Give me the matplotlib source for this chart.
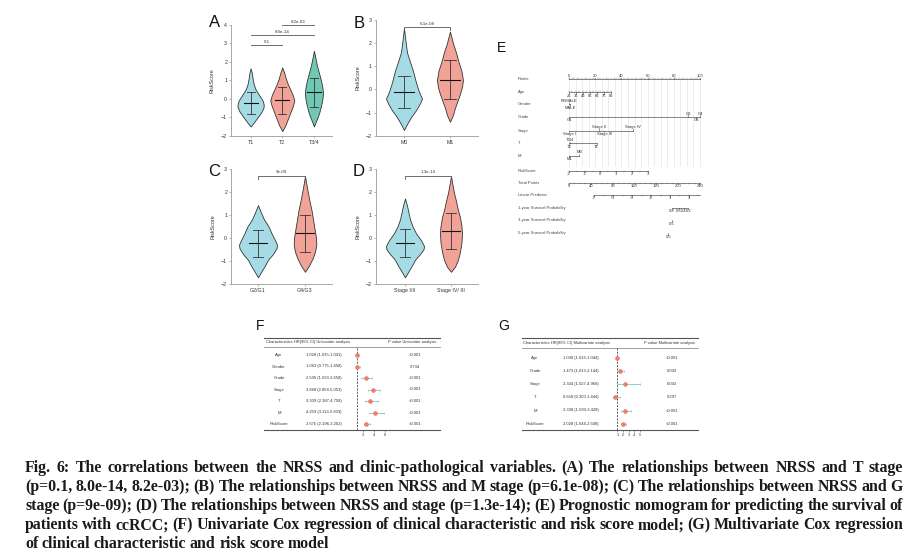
import numpy as np
import matplotlib
matplotlib.use("Agg")
import matplotlib.pyplot as plt

plt.rcParams['font.family'] = ['Liberation Sans', 'DejaVu Sans']

W, H = 913, 556

# ---------------- data: violin panels A-D ----------------
# each violin outline = RiskScore levels and the (unscaled) half-width there
A_groups = ['T1', 'T2', 'T3/4']
A_y = [[-1.5, -1.3, -1.0, -0.7, -0.45, -0.3, -0.1, 0.2, 0.5, 0.8, 1.1, 1.4, 1.65],
       [-1.75, -1.45, -1.1, -0.75, -0.4, -0.1, 0.2, 0.5, 0.8, 1.1, 1.4, 1.7],
       [-1.5, -1.15, -0.8, -0.4, 0.0, 0.3, 0.6, 1.0, 1.4, 1.8, 2.2, 2.6]]
A_dens = [[0, 3, 7, 11, 13, 13, 12, 8.5, 5, 3, 2, 1.2, 0],
          [0, 3, 5.5, 8, 10.5, 12, 10.5, 8, 5.5, 3.5, 2, 0],
          [0, 2.5, 5, 7, 8.5, 9, 8.5, 7, 5, 3, 1.5, 0]]
A_mid = [-0.25, -0.08, 0.35]
A_lo = [-0.85, -0.8, -0.45]
A_hi = [0.35, 0.65, 1.15]
A_pairs = [(1, 2), (1, 3), (2, 3)]
A_pvals = ['0.1', '8.0e-14', '8.2e-03']

B_groups = ['M0', 'M1']
B_y = [[-1.75, -1.5, -1.2, -0.9, -0.6, -0.4, -0.1, 0.3, 0.8, 1.2, 1.6, 2.1, 2.65],
       [-1.4, -1.1, -0.8, -0.5, -0.2, 0.1, 0.4, 0.8, 1.2, 1.6, 2.0, 2.5]]
B_dens = [[0, 3, 7, 12, 16, 18, 15, 12, 9, 6, 3, 1.5, 0],
          [0, 3, 5, 7.5, 10, 12, 13, 11.5, 8.5, 6, 3, 0]]
B_mid = [-0.1, 0.42]
B_lo = [-0.8, -0.4]
B_hi = [0.6, 1.25]
B_pval = '6.1e-08'

C_groups = ['G2/G1', 'G4/G3']
C_y = [[-1.71, -1.45, -1.2, -0.95, -0.7, -0.45, -0.3, -0.1, 0.2, 0.5, 0.8, 1.1, 1.42],
       [-1.47, -1.2, -0.9, -0.6, -0.3, 0.0, 0.4, 0.8, 1.2, 1.6, 2.0, 2.3, 2.68]]
C_dens = [[0, 3.5, 7, 10, 15, 18.5, 19, 17, 13.5, 10.5, 6, 3, 0],
          [0, 4, 7.5, 10, 11.3, 11, 9.5, 8, 6.5, 4.5, 2.7, 1.5, 0]]
C_mid = [-0.22, 0.2]
C_lo = [-0.82, -0.62]
C_hi = [0.35, 1.0]
C_pval = '9e-09'

D_groups = ['Stage I/II', 'Stage IV/ III']
D_y = [[-1.71, -1.45, -1.2, -0.95, -0.7, -0.5, -0.35, -0.1, 0.2, 0.5, 0.8, 1.1, 1.4, 1.71],
       [-1.47, -1.25, -0.95, -0.6, -0.2, 0.2, 0.5, 0.9, 1.2, 1.6, 1.95, 2.3, 2.68]]
D_dens = [[0, 3.5, 7, 10, 15, 18.5, 19, 16, 11, 7.5, 5, 3.5, 2, 0],
          [0, 4, 7, 9, 10.5, 11, 10.5, 9, 7, 5, 3, 1.5, 0]]
D_mid = [-0.22, 0.32]
D_lo = [-0.85, -0.47]
D_hi = [0.38, 1.1]
D_pval = '1.3e-14'

# ---------------- data: nomogram E ----------------
nom_labels = ['Points', 'Age', 'Gender', 'Grade', 'Stage', 'T', 'M', 'RiskScore',
              'Total Points', 'Linear Predictor', '1-year Survival Probability',
              '3-year Survival Probability', '5-year Survival Probability']
age_ticks = [25, 35, 45, 55, 65, 75, 85]
age_pts = [0, 5.3, 10.7, 16, 21.3, 26.7, 32]
gender_levels = ['FEMALE', 'MALE']
gender_pts = [0, 1]
grade_levels = ['G1', 'G2', 'G3', 'G4']
grade_pts = [0, 91, 97, 100]
stage_levels = ['Stage I', 'Stage II', 'Stage III', 'Stage IV']
stage_pts = [0, 23, 27, 49]
t_levels = ['T2', 'T3/4', 'T1']
t_pts = [0, 1, 21]
m_levels = ['M1', 'M0']
m_pts = [0, 8]
risk_ticks = [-2, -1, 0, 1, 2, 3]
risk_pts = [0, 12, 24, 36, 48, 60]
total_ticks = [0, 40, 80, 120, 160, 200, 240]
lp_ticks = [-7, -5, -3, -1, 1, 3]
lp_pos = [19.1, 33.6, 48.1, 62.6, 77.1, 91.6]
surv1_ticks = ['0.8', '0.6', '0.4', '0.2']
surv1_pos = [78.4, 84, 87.6, 91]
surv3_ticks = ['0.5']
surv3_pos = [78.4]
surv5_ticks = ['0.5']
surv5_pos = [75.8]

# ---------------- data: Cox regression F / G ----------------
f_vars = ['Age', 'Gender', 'Grade', 'Stage', 'T', 'M', 'RiskScore']
f_hr = [1.028, 1.063, 2.506, 3.868, 3.309, 4.259, 2.675]
f_lo = [1.015, 0.775, 1.633, 2.858, 2.387, 3.113, 2.196]
f_hi = [1.041, 1.458, 3.658, 5.053, 4.758, 5.833, 3.262]
f_p = ['<0.001', '0.734', '<0.001', '<0.001', '<0.001', '<0.001', '<0.001']

g_vars = ['Age', 'Grade', 'Stage', 'T', 'M', 'RiskScore']
g_hr = [1.030, 1.473, 2.304, 0.658, 2.338, 2.028]
g_lo = [1.016, 1.013, 1.027, 0.300, 1.594, 1.644]
g_hi = [1.044, 2.144, 4.968, 1.444, 3.428, 2.508]
g_p = ['<0.001', '0.043', '0.043', '0.297', '<0.001', '<0.001']

caption = [
    "Fig. 6: The correlations between the NRSS and clinic-pathological variables. (A) The relationships between NRSS and T stage",
    "(p=0.1, 8.0e-14, 8.2e-03); (B) The relationships between NRSS and M stage (p=6.1e-08); (C) The relationships between NRSS and G",
    "stage (p=9e-09); (D) The relationships between NRSS and stage (p=1.3e-14); (E) Prognostic nomogram for predicting the survival of",
    "patients with ccRCC; (F) Univariate Cox regression of clinical characteristic and risk score model; (G) Multivariate Cox regression",
    "of clinical characteristic and risk score model",
]

BLUE, SALMON, TEAL = '#A4DBE5', '#F2A398', '#70C7B4'
DOT, CI = '#EE7D6A', '#8CD2C6'


def rect(x0, y0, x1, y1):
    return [x0 / W, 1 - y1 / H, (x1 - x0) / W, (y1 - y0) / H]


fig = plt.figure(figsize=(W / 100, H / 100), dpi=100)
ov = fig.add_axes([0, 0, 1, 1])
ov.set_xlim(0, W)
ov.set_ylim(H, 0)
ov.axis('off')


def violin_panel(box, xlim, ylim, pxu, groups, ys, dens, mid, lo, hi, colors,
                 cap_w, mid_w, ylab_off):
    ax = fig.add_axes(rect(*box))
    for i, g in enumerate(groups):
        pos = i + 1
        y = np.array(ys[i])
        w = np.array(dens[i]) / pxu
        ax.fill_betweenx(y, pos - w, pos + w, facecolor=colors[i],
                         edgecolor='#333333', lw=0.6, zorder=2)
        ax.plot([pos, pos], [lo[i], hi[i]], color='#333333', lw=0.6, zorder=3)
        for v in (lo[i], hi[i]):
            ax.plot([pos - cap_w / pxu, pos + cap_w / pxu], [v, v],
                    color='#333333', lw=0.6, zorder=3)
        ax.plot([pos - mid_w / pxu, pos + mid_w / pxu], [mid[i], mid[i]],
                color='#111111', lw=0.8, zorder=3)
    ax.set_xlim(*xlim)
    ax.set_ylim(*ylim)
    ax.set_xticks(range(1, len(groups) + 1))
    ax.set_xticklabels(groups)
    ax.set_yticks(range(ylim[0], ylim[1] + 1))
    for s in ('top', 'right'):
        ax.spines[s].set_visible(False)
    for s in ('left', 'bottom'):
        ax.spines[s].set_color('#999999')
        ax.spines[s].set_linewidth(0.6)
    ax.tick_params(labelsize=3.8, length=1.6, width=0.5, color='#999999',
                   pad=1.2, labelcolor='#333333')
    ax.set_ylabel('RiskScore', fontsize=3.9, color='#333333')
    ax.yaxis.set_label_coords(ylab_off, 0.5)
    ax.patch.set_alpha(0)
    return ax


def bracket(ax, x0, x1, y, label, tick=0.0):
    ax.plot([x0, x0, x1, x1], [y - tick, y, y, y - tick], color='#555555',
            lw=0.6, clip_on=False)
    ax.text((x0 + x1) / 2, y + 0.06, label, fontsize=3.2, ha='center',
            va='bottom', color='#333333', clip_on=False)


axA = violin_panel((231, 25, 332, 135.7), (0.38, 3.57), (-2, 4), 31.6, A_groups,
                   A_y, A_dens, A_mid, A_lo, A_hi, [BLUE, SALMON, TEAL], 4, 7,
                   -16 / 101)
for (a, b), p, yb in zip(A_pairs, A_pvals, [2.9, 3.45, 4.0]):
    bracket(axA, a, b, yb, p)

axB = violin_panel((375.7, 20, 478, 135.7), (0.385, 2.61), (-2, 3), 46, B_groups,
                   B_y, B_dens, B_mid, B_lo, B_hi, [BLUE, SALMON], 6, 10,
                   -15.7 / 102.3)
bracket(axB, 1, 2, 2.7, B_pval, tick=0.13)

axC = violin_panel((231, 168.7, 332, 284), (0.426, 2.574), (-2, 3), 47, C_groups,
                   C_y, C_dens, C_mid, C_lo, C_hi, [BLUE, SALMON], 5, 9,
                   -15.3 / 101)
bracket(axC, 1, 2, 2.7, C_pval, tick=0.13)

axD = violin_panel((375.7, 168.7, 478, 284), (0.363, 2.587), (-2, 3), 46, D_groups,
                   D_y, D_dens, D_mid, D_lo, D_hi, [BLUE, SALMON], 5, 9,
                   -15.7 / 102.3)
bracket(axD, 1, 2, 2.7, D_pval, tick=0.13)

# panel letters
for lab, x, y, fs in [('A', 215, 22.5, 12), ('B', 359, 24, 12), ('C', 214, 171, 12),
                      ('D', 358.5, 171, 12), ('E', 502, 47.5, 10),
                      ('F', 260.5, 326.5, 10), ('G', 504, 326.5, 10)]:
    ov.text(x, y, lab, fontsize=fs, ha='center', va='center', color='#111111')

# ---------------- E: nomogram ----------------
X0, PX = 569, 1.31            # pixel of 0 points, pixels per point
axE = fig.add_axes(rect(500, 40, 720, 245))
axE.set_xlim((500 - X0) / PX, (720 - X0) / PX)
axE.set_ylim(245, 40)
axE.axis('off')
axE.patch.set_alpha(0)

row_y = [79.3, 92.3, 104.3, 117, 130.7, 143.3, 155.7, 170.7, 182.7, 195, 207.7,
         220.5, 233.3]
lab_x = (518 - X0) / PX
for lab, y in zip(nom_labels, row_y):
    axE.text(lab_x, y, lab, fontsize=3.0, va='center', ha='left', color='#444444')

# grid lines
for g in np.arange(0, 101, 5):
    axE.plot([g, g], [row_y[0], 166], color='#dddddd', lw=0.4, zorder=0)

NCOL = '#555555'
TL = 1.6
FS = 3.0


def scale_row(y, pos, labels, sides, line=None, minor=None, minor_side=1):
    lo_, hi_ = (min(pos), max(pos)) if line is None else line
    axE.plot([lo_, hi_], [y, y], color=NCOL, lw=0.5)
    if minor is not None:
        for m in minor:
            axE.plot([m, m], [y, y + minor_side * TL * 0.6], color=NCOL, lw=0.35)
    for p, l, s in zip(pos, labels, sides):
        axE.plot([p, p], [y, y + s * TL], color=NCOL, lw=0.45)
        axE.text(p, y + s * 3.4, l, fontsize=FS, ha='center', va='center',
                 color='#333333')


scale_row(row_y[0], list(range(0, 101, 20)), [str(v) for v in range(0, 101, 20)],
          [-1] * 6, minor=np.arange(0, 101, 2), minor_side=-1)
scale_row(row_y[1], age_pts, [str(a) for a in age_ticks], [1] * len(age_ticks),
          minor=np.linspace(age_pts[0], age_pts[-1], 13), minor_side=-1)
scale_row(row_y[2], gender_pts, gender_levels, [-1, 1])
scale_row(row_y[3], grade_pts, grade_levels, [1, -1, 1, -1])
scale_row(row_y[4], stage_pts, stage_levels, [1, -1, 1, -1])
scale_row(row_y[5], t_pts, t_levels, [1, -1, 1])
scale_row(row_y[6], m_pts, m_levels, [1, -1])
scale_row(row_y[7], risk_pts, [str(v) for v in risk_ticks], [1] * 6,
          minor=np.arange(risk_pts[0], risk_pts[-1] + 0.1, 6))
tot_pos = [v / 240 * 100 for v in total_ticks]
scale_row(row_y[8], tot_pos, [str(v) for v in total_ticks], [1] * 7,
          minor=np.arange(0, 100.1, 100 / 24))
scale_row(row_y[9], lp_pos, [str(v) for v in lp_ticks], [1] * 6, line=(lp_pos[0], 100),
          minor=np.arange(lp_pos[0], 100.1, (lp_pos[1] - lp_pos[0]) / 2))
scale_row(row_y[10], surv1_pos, surv1_ticks, [1] * 4)
scale_row(row_y[11], surv3_pos, surv3_ticks, [1])
scale_row(row_y[12], surv5_pos, surv5_ticks, [1])

# ---------------- F / G: forest tables ----------------
TCOL = '#333333'


def forest(tab_x, top_y, head_y, bot_y, row0, drow, col_x, header, variables,
           hr, lo, hi, pv, fbox, hr1_px, hr_px, ticks):
    x0, x1 = tab_x
    ov.plot([x0, x1], [top_y, top_y], color='#555555', lw=0.8)
    ov.plot([x0, x1], [head_y, head_y], color='#777777', lw=0.5)
    ov.plot([x0, x1], [bot_y, bot_y], color='#555555', lw=0.8)
    ov.text(header[0][0], (top_y + head_y) / 2, header[0][1], fontsize=2.9,
            ha='left', va='center', color=TCOL)
    ov.text(header[1][0], (top_y + head_y) / 2, header[1][1], fontsize=2.9,
            ha='left', va='center', color=TCOL)
    for i, v in enumerate(variables):
        y = row0 + i * drow
        ov.text(col_x[0], y, v, fontsize=3.0, ha='center', va='center', color=TCOL)
        ov.text(col_x[1], y, f"{hr[i]:.3f} ({lo[i]:.3f}-{hi[i]:.3f})", fontsize=3.0,
                ha='center', va='center', color=TCOL)
        ov.text(col_x[2], y, pv[i], fontsize=3.0, ha='center', va='center',
                color=TCOL)
    fx0, fx1 = fbox
    ax = fig.add_axes(rect(fx0, head_y, fx1, bot_y))
    ax.set_xlim((fx0 - hr1_px) / hr_px + 1, (fx1 - hr1_px) / hr_px + 1)
    ax.set_ylim((bot_y - row0) / drow, (head_y - row0) / drow)
    ax.patch.set_alpha(0)
    for s in ax.spines.values():
        s.set_visible(False)
    ax.axvline(1, ls=(0, (2.5, 1.5)), color='#444444', lw=0.6)
    rows = np.arange(len(variables))
    hr_a, lo_a, hi_a = np.array(hr), np.array(lo), np.array(hi)
    ax.errorbar(hr_a, rows, xerr=[hr_a - lo_a, hi_a - hr_a], fmt='o', ms=2.3,
                mfc=DOT, mec=DOT, ecolor=CI, elinewidth=0.7, capsize=1.0,
                capthick=0.6, zorder=3)
    ax.set_yticks([])
    ax.set_xticks(ticks)
    ax.tick_params(axis='x', labelsize=2.8, length=1.3, width=0.4, pad=0.8,
                   color='#555555', labelcolor=TCOL)
    return ax


forest((264, 440), 337.7, 347, 430, 355, 11.5, (279, 324, 415),
       [(266, 'Characteristics HR(95% CI) Univariate analysis'),
        (388, 'P value Univariate analysis')],
       f_vars, f_hr, f_lo, f_hi, f_p, (340, 400), 357, 5.67, [2, 4, 6])

forest((521.7, 698), 337.7, 348, 430, 357.7, 13.2, (535, 581, 671.7),
       [(523, 'Characteristics HR(95% CI) Multivariate analysis'),
        (644, 'P value Multivariate analysis')],
       g_vars, g_hr, g_lo, g_hi, g_p, (600, 645), 617.3, 5.7, [1, 2, 3, 4, 5])

# ---------------- caption (justified) ----------------
r = fig.canvas.get_renderer()
CAP_L, CAP_R, BASE0, STEP = 25, 903, 472.3, 19.0
CAP_FONT = dict(fontweight='bold', family=['Liberation Serif', 'DejaVu Serif'],
                va='baseline', ha='left', color='#1a1a1a')


def word_widths(words, fs):
    out = []
    for w in words:
        t = ov.text(0, 0, w, fontsize=fs, **CAP_FONT)
        out.append(t.get_window_extent(r).width)
        t.remove()
    return out


# largest font size at which every justified line keeps a 3.5 px word gap
CFS = 12.0
for line in caption[:-1]:
    words = line.split(' ')
    tot = sum(word_widths(words, 12.0))
    CFS = min(CFS, 12.0 * (CAP_R - CAP_L - 3.5 * (len(words) - 1)) / tot)

for k, line in enumerate(caption):
    words = line.split(' ')
    widths = word_widths(words, CFS)
    if k < len(caption) - 1:
        gap = (CAP_R - CAP_L - sum(widths)) / (len(words) - 1)
    else:
        gap = 3.5
    x = CAP_L
    for w, wd in zip(words, widths):
        ov.text(x, BASE0 + k * STEP, w, fontsize=CFS, **CAP_FONT)
        x += wd + gap

fig.savefig('out.png', dpi=100)
